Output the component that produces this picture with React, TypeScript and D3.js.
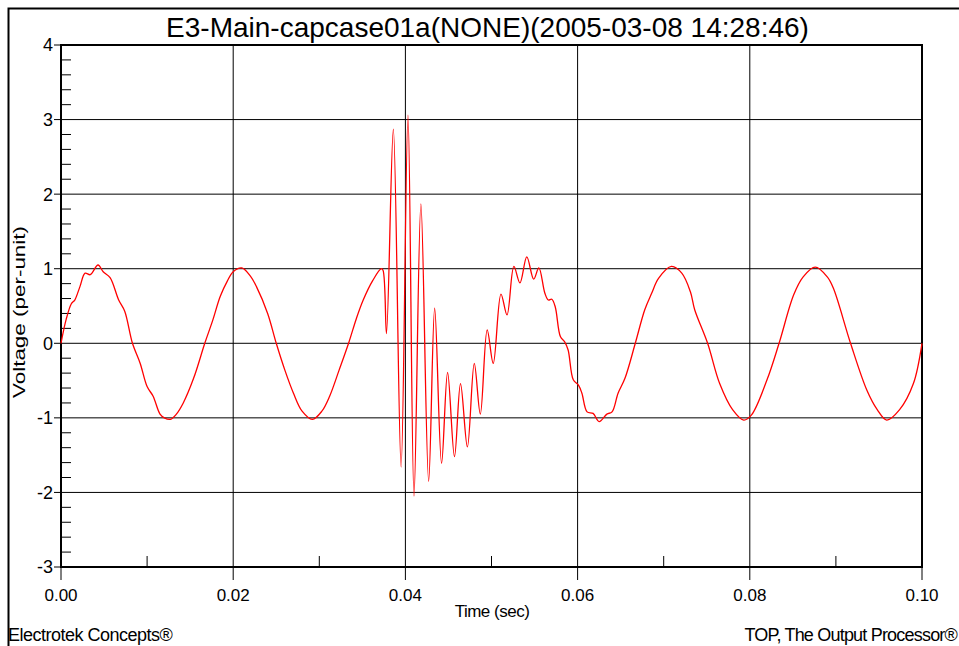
import React from "react";
import * as d3 from "d3";

// waveform: time (s) and voltage (per-unit)
const timeSec = [
  0.0, 0.0006, 0.0012, 0.0016, 0.0022, 0.0028, 0.0034, 0.0043, 0.0049, 0.0057,
  0.0067, 0.0074, 0.0083, 0.0092, 0.01, 0.0107, 0.0115, 0.012, 0.0127, 0.0134,
  0.0142, 0.0154, 0.0167, 0.0176, 0.0185, 0.0193, 0.02, 0.021, 0.022, 0.0227,
  0.024, 0.025, 0.026, 0.027, 0.028, 0.0292, 0.0303, 0.0312, 0.0323, 0.0334,
  0.0343, 0.0351, 0.0362, 0.0372, 0.0374, 0.0378, 0.0386, 0.0395, 0.0403, 0.041,
  0.0418, 0.0427, 0.0434, 0.0442, 0.0449, 0.0457, 0.0464, 0.0472, 0.048, 0.0487,
  0.0495, 0.0502, 0.0511, 0.0518, 0.0526, 0.0533, 0.0541, 0.0549, 0.0555, 0.0562,
  0.0566, 0.057, 0.0574, 0.058, 0.0585, 0.0589, 0.0595, 0.0601, 0.0605, 0.0611,
  0.0618, 0.0625, 0.0634, 0.064, 0.0647, 0.0655, 0.0667, 0.0678, 0.0686, 0.0694,
  0.0709, 0.0721, 0.0731, 0.0736, 0.0751, 0.0765, 0.078, 0.0793, 0.0802, 0.082,
  0.0834, 0.0851, 0.0862, 0.0876, 0.089, 0.0897, 0.0917, 0.0936, 0.0948, 0.0959,
  0.0974, 0.099, 0.1,
];
const voltagePu = [
  0.0, 0.32, 0.53, 0.58, 0.76, 0.94, 0.92, 1.05, 0.96, 0.88,
  0.58, 0.43, 0.0, -0.27, -0.58, -0.71, -0.95, -1.0, -1.02, -0.95,
  -0.8, -0.47, 0.0, 0.3, 0.63, 0.83, 0.96, 1.01, 0.9, 0.76,
  0.4, 0.0, -0.36, -0.67, -0.91, -1.02, -0.91, -0.71, -0.36, 0.0,
  0.33, 0.58, 0.84, 1.0, 0.98, 0.13, 2.87, -1.66, 3.06, -2.05,
  1.87, -1.85, 0.47, -1.61, -0.39, -1.52, -0.54, -1.39, -0.27, -0.95,
  0.18, -0.27, 0.66, 0.38, 1.03, 0.81, 1.16, 0.86, 1.01, 0.67,
  0.58, 0.59, 0.49, 0.09, 0.02, -0.09, -0.49, -0.56, -0.67, -0.92,
  -0.94, -1.05, -0.95, -0.92, -0.67, -0.47, 0.0, 0.45, 0.67, 0.87,
  1.03, 0.94, 0.69, 0.45, 0.0, -0.54, -0.89, -1.03, -0.96, -0.49,
  0.0, 0.65, 0.89, 1.02, 0.89, 0.74, 0.0, -0.63, -0.89, -1.03,
  -0.89, -0.54, 0.0,
];

const xTicks = [0, 0.02, 0.04, 0.06, 0.08, 0.1];
const xTickLabels = ["0.00", "0.02", "0.04", "0.06", "0.08", "0.10"];
const xMinorTicks = [0.01, 0.03, 0.05, 0.07, 0.09];
const yTicks = [-3, -2, -1, 0, 1, 2, 3, 4];

const title = "E3-Main-capcase01a(NONE)(2005-03-08 14:28:46)";
const font = "'Liberation Sans', Arial, sans-serif";

export default function App() {
  const width = 959;
  const height = 646;
  const left = 61, right = 922, top = 45, bottom = 567;

  const x = d3.scaleLinear().domain([0, 0.1]).range([left, right]);
  const y = d3.scaleLinear().domain([-3, 4]).range([bottom, top]);

  const yMinor = d3.range(-3, 4, 0.2).filter((v) => Math.abs(v - Math.round(v)) > 0.01);

  const points = timeSec.map((t, i) => [t, voltagePu[i]] as [number, number]);
  const line = d3
    .line<[number, number]>()
    .x((d) => x(d[0]))
    .y((d) => y(d[1]))
    .curve(d3.curveCatmullRom.alpha(0.5));

  return (
    <svg
      width={width}
      height={height}
      style={{ position: "absolute", left: 0, top: 0, background: "#fff" }}
      fontFamily={font}
    >
      <rect width={width} height={height} fill="#fff" />
      {/* outer frame */}
      <path d={`M8.5,${height} V8.5 H${width}`} fill="none" stroke="#000" strokeWidth={2} />

      <text x={487.5} y={37} textAnchor="middle" fontSize={28}>
        {title}
      </text>

      {/* grid */}
      {xTicks.map((t) => (
        <line key={"gx" + t} x1={x(t)} x2={x(t)} y1={top} y2={bottom + 13} stroke="#000" strokeWidth={1} />
      ))}
      {yTicks.map((v) => (
        <line key={"gy" + v} x1={left - 7} x2={right} y1={y(v)} y2={y(v)} stroke="#000" strokeWidth={1} />
      ))}
      {yMinor.map((v) => (
        <line key={"my" + v} x1={left} x2={left + 10} y1={y(v)} y2={y(v)} stroke="#000" strokeWidth={1} />
      ))}
      {xMinorTicks.map((t) => (
        <line key={"mx" + t} x1={x(t)} x2={x(t)} y1={bottom} y2={bottom - 11} stroke="#000" strokeWidth={1} />
      ))}

      <rect x={left} y={top} width={right - left} height={bottom - top} fill="none" stroke="#000" strokeWidth={2} />

      <path d={line(points) ?? ""} fill="none" stroke="#ff0000" strokeWidth={1.3} />

      {/* tick labels */}
      {yTicks.map((v) => (
        <text key={"ly" + v} x={53} y={y(v)} dy="0.36em" textAnchor="end" fontSize={18}>
          {v}
        </text>
      ))}
      {xTicks.map((t, i) => (
        <text key={"lx" + t} x={x(t)} y={601} textAnchor="middle" fontSize={17}>
          {xTickLabels[i]}
        </text>
      ))}

      <text x={492} y={617} textAnchor="middle" fontSize={17} letterSpacing={-0.5}>
        Time (sec)
      </text>
      <text
        transform="translate(25,312) rotate(-90)"
        textAnchor="middle"
        fontSize={17}
        textLength={172}
        lengthAdjust="spacingAndGlyphs"
      >
        Voltage (per-unit)
      </text>

      <text x={8} y={641} fontSize={18} letterSpacing={-0.5}>
        Electrotek Concepts®
      </text>
      <text x={957} y={641} textAnchor="end" fontSize={18} letterSpacing={-0.8}>
        TOP, The Output Processor®
      </text>
    </svg>
  );
}
